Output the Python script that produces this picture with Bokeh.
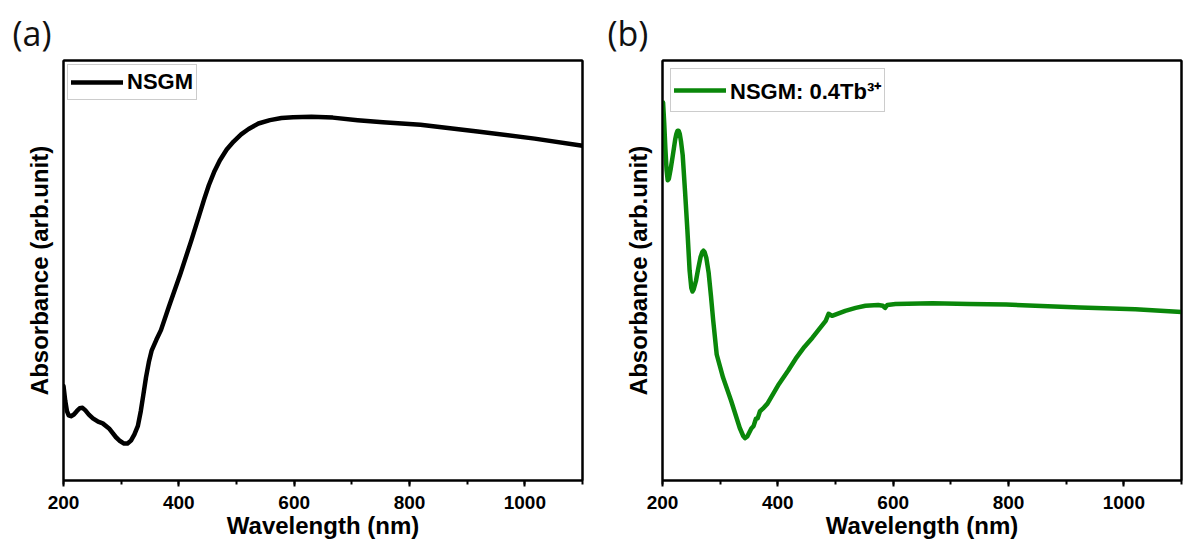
from bokeh.plotting import figure
from bokeh.layouts import row
from bokeh.models import SingleIntervalTicker, Range1d, Legend, LegendItem, Title, LinearAxis
from bokeh.embed import file_html
from bokeh.resources import INLINE

# ---- data ----
a_wavelength = [200, 203, 206, 209, 213, 218, 223, 228, 233, 238, 244, 251, 260, 268, 279, 291, 298,
                305, 311, 317, 323, 329, 334, 338, 343, 348, 353, 361, 369, 383, 402, 422, 435,
                444, 452, 462, 471, 483, 495, 508, 521, 538, 558, 578, 598, 630, 667, 710, 754,
                819, 918, 1017, 1100]
a_absorbance = [0.225, 0.19, 0.165, 0.155, 0.153, 0.157, 0.165, 0.172, 0.173, 0.167, 0.157, 0.148,
                0.140, 0.136, 0.124, 0.103, 0.094, 0.088, 0.088, 0.095, 0.11, 0.130, 0.165, 0.200,
                0.245, 0.282, 0.310, 0.335, 0.358, 0.415, 0.489, 0.573, 0.630,
                0.670, 0.703, 0.737, 0.762, 0.788, 0.807, 0.824, 0.837, 0.850, 0.858, 0.863, 0.865,
                0.866, 0.864, 0.858, 0.853, 0.847, 0.831, 0.814, 0.797]

b_wavelength = [201, 203, 205, 207, 209, 211, 214, 218, 222, 224, 226, 228, 230, 232, 235, 239, 243,
                247, 250, 252, 254, 258, 262, 266, 269, 271, 273, 276, 280, 284, 288, 294, 305, 319,
                334, 340, 343, 347, 354, 358, 362, 365, 369, 374, 382, 402, 418, 431, 446, 460, 472,
                483, 488, 494, 517, 535, 552, 574, 582, 586, 590, 604, 668, 732, 796, 924, 1020, 1100]
b_absorbance = [0.90, 0.85, 0.79, 0.74, 0.715, 0.718, 0.74, 0.775, 0.812, 0.825, 0.833, 0.833,
                0.825, 0.808, 0.775, 0.69, 0.60, 0.50, 0.458, 0.450, 0.455, 0.475, 0.505, 0.532,
                0.544, 0.547, 0.544, 0.530, 0.495, 0.44, 0.38, 0.30, 0.245, 0.19, 0.125, 0.106,
                0.101, 0.105, 0.124, 0.13, 0.147, 0.148, 0.165, 0.171, 0.183, 0.230, 0.262, 0.290,
                0.318, 0.340, 0.361, 0.380, 0.397, 0.392, 0.404, 0.411, 0.416, 0.418, 0.416, 0.411,
                0.418, 0.420, 0.422, 0.420, 0.419, 0.412, 0.408, 0.401]

labels = ["NSGM", "NSGM: 0.4Tb\u00b3\u207a"]
panel_tags = ["(a)", "(b)"]
colors = ["#000000", "#0a870a"]

AX_FONT = "Liberation Sans"


def border_axis(p, side):
    ax = LinearAxis(ticker=[], axis_line_width=2, axis_line_color="black",
                    major_tick_in=0, major_tick_out=0, minor_tick_in=0, minor_tick_out=0,
                    major_label_text_font_size="0px")
    p.add_layout(ax, side)


def make_panel(x, y, label, tag, color, width, left, right, tag_offset, legend_margin, legend_lh):
    p = figure(width=width, height=546, output_backend="svg", toolbar_location=None,
               x_range=Range1d(200, 1100), y_range=Range1d(0, 1),
               min_border_left=left, min_border_right=right, min_border_top=60, min_border_bottom=66)
    p.background_fill_color = "white"
    p.border_fill_color = "white"
    p.grid.visible = False
    p.outline_line_color = "black"
    p.outline_line_width = 2

    r = p.line(x, y, line_color=color, line_width=4.5, line_join="round", line_cap="round")

    # x axis
    xa = p.xaxis[0]
    xa.ticker = SingleIntervalTicker(interval=200, num_minor_ticks=2)
    xa.axis_label = "Wavelength (nm)"
    xa.axis_label_text_font = AX_FONT
    xa.axis_label_text_font_style = "bold"
    xa.axis_label_text_font_size = "24px"
    xa.axis_label_text_color = "black"
    xa.axis_label_standoff = 0
    xa.major_label_text_font = AX_FONT
    xa.major_label_text_font_style = "bold"
    xa.major_label_text_font_size = "19px"
    xa.major_label_text_color = "black"
    xa.major_label_standoff = 9
    xa.axis_line_width = 2
    xa.axis_line_color = "black"
    xa.major_tick_line_width = 2
    xa.minor_tick_line_width = 2
    xa.major_tick_line_color = "black"
    xa.minor_tick_line_color = "black"
    xa.major_tick_in = 0
    xa.major_tick_out = 6
    xa.minor_tick_in = 0
    xa.minor_tick_out = 4

    # y axis: label only
    ya = p.yaxis[0]
    ya.ticker = []
    ya.major_tick_out = 0
    ya.major_tick_in = 0
    ya.minor_tick_out = 0
    ya.axis_line_width = 2
    ya.axis_line_color = "black"
    ya.axis_label = "Absorbance (arb.unit)"
    ya.axis_label_text_font = AX_FONT
    ya.axis_label_text_font_style = "bold"
    ya.axis_label_text_font_size = "24px"
    ya.axis_label_text_color = "black"
    ya.axis_label_standoff = 11

    border_axis(p, "above")
    border_axis(p, "right")

    legend = Legend(items=[LegendItem(label=label, renderers=[r])], location="top_left",
                    margin=legend_margin, padding=3, spacing=0,
                    glyph_width=52, glyph_height=20, label_height=legend_lh, label_standoff=4,
                    label_text_font=AX_FONT, label_text_font_style="bold",
                    label_text_font_size="22px", label_text_color="black",
                    border_line_color="#9a9a9a", border_line_width=1,
                    background_fill_color="white", background_fill_alpha=1.0)
    p.add_layout(legend)

    t = Title(text=tag, align="left", offset=tag_offset, text_font="Open Sans",
              text_font_style="normal", text_font_size="34px", text_color="#111111", standoff=10)
    p.add_layout(t, "above")
    return p


pa = make_panel(a_wavelength, a_absorbance, labels[0], panel_tags[0], colors[0],
                width=600, left=63, right=18, tag_offset=-51, legend_margin=4, legend_lh=28)
pb = make_panel(b_wavelength, b_absorbance, labels[1], panel_tags[1], colors[1],
                width=583, left=62, right=2, tag_offset=-55, legend_margin=8, legend_lh=36)

layout = row(pa, pb)
open("out.html", "w").write(file_html(layout, INLINE))
